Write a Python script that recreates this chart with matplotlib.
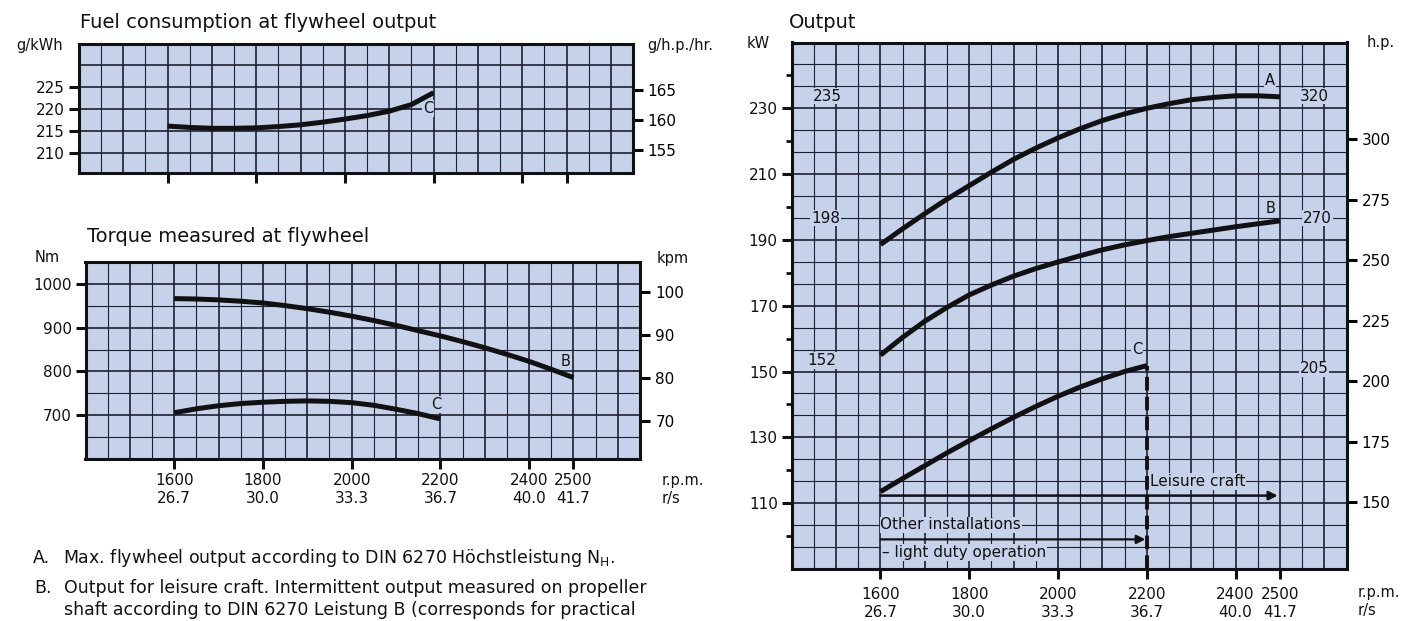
import numpy as np
import matplotlib
matplotlib.use("Agg")
import matplotlib.pyplot as plt

plt.rcParams['font.family'] = ['DejaVu Sans']

W, H = 1410, 621

# x axis (engine speed)
rpm_ticks = [1600, 1800, 2000, 2200, 2400, 2500]
rps_labels = ["26.7", "30.0", "33.3", "36.7", "40.0", "41.7"]

# fuel consumption, curve C (g/kWh)
fuel_rpm = [1600, 1650, 1700, 1750, 1800, 1850, 1900, 1950, 2000, 2050, 2100, 2150, 2200]
fuel_c = [216.2, 215.9, 215.7, 215.7, 215.8, 216.1, 216.5, 217.1, 217.8, 218.6, 219.6, 221.1, 223.8]

# torque (Nm)
torque_rpm_b = [1600, 1650, 1700, 1750, 1800, 1850, 1900, 1950, 2000, 2050,
                2100, 2150, 2200, 2250, 2300, 2350, 2400, 2450, 2500]
torque_b = [966, 965, 963, 960, 956, 950, 943, 935, 926, 916,
            905, 893, 881, 868, 854, 839, 823, 805, 786]
torque_rpm_c = [1600, 1650, 1700, 1750, 1800, 1850, 1900, 1950, 2000, 2050, 2100, 2150, 2200]
torque_c = [706, 715, 722, 727, 730, 732, 733, 732, 729, 723, 714, 704, 692]

# output (kW)
out_rpm_ab = [1600, 1650, 1700, 1750, 1800, 1850, 1900, 1950, 2000, 2050,
              2100, 2150, 2200, 2250, 2300, 2350, 2400, 2450, 2500]
out_a = [188.6, 193.4, 198.0, 202.4, 206.5, 210.6, 214.5, 217.9, 221.0, 223.8,
         226.3, 228.3, 230.0, 231.4, 232.6, 233.3, 233.8, 233.8, 233.5]
out_b = [155.0, 160.4, 165.3, 169.5, 173.3, 176.3, 179.0, 181.3, 183.3, 185.2,
         187.0, 188.5, 189.8, 191.0, 192.0, 193.0, 194.0, 194.9, 195.8]
out_rpm_c = [1600, 1650, 1700, 1750, 1800, 1850, 1900, 1950, 2000, 2050, 2100, 2150, 2200]
out_c = [113.5, 117.5, 121.4, 125.3, 129.0, 132.6, 136.1, 139.4, 142.5, 145.3, 147.8, 150.0, 151.8]

BG = '#c5d2ea'
GRID = '#1c2030'
INK = '#111111'

fig = plt.figure(figsize=(W / 100, H / 100), dpi=100)


def box(left, top, right, bottom):
    return [left / W, 1 - bottom / H, (right - left) / W, (bottom - top) / H]


def ftext(x, y, s, **kw):
    kw.setdefault('fontsize', 11)
    kw.setdefault('va', 'center')
    fig.text(x / W, 1 - y / H, s, color=INK, **kw)


def graph_paper(ax, ylo, yhi, hlines, hmajor):
    ax.set_facecolor(BG)
    ax.set_xlim(1400, 2650)
    ax.set_ylim(ylo, yhi)
    for x in np.arange(1450, 2650, 50):
        ax.axvline(x, color=GRID, lw=1.2 if x % 100 == 0 else 0.8, zorder=1)
    for i, y in enumerate(hlines):
        ax.axhline(y, color=GRID, lw=1.2 if i in hmajor else 0.8, zorder=1)
    for s in ax.spines.values():
        s.set_linewidth(2.2)
        s.set_color(INK)
    ax.tick_params(axis='both', direction='out', length=7, width=2.2,
                   labelsize=11, color=INK, labelcolor=INK, pad=3)


def curve(ax, x, y):
    ax.plot(x, y, color=INK, lw=3.6, solid_capstyle='butt', zorder=3)


def label(ax, x, y, s, size=11, ha='center'):
    ax.text(x, y, s, ha=ha, va='center', fontsize=size, color=INK, zorder=2,
            bbox=dict(facecolor=BG, edgecolor='none', pad=0.6))


xlabels = [f"{r}\n{s}" for r, s in zip(rpm_ticks, rps_labels)]

# ---------------- fuel consumption ----------------
ax1 = fig.add_axes(box(79, 43.5, 633, 172.7))
graph_paper(ax1, 205.6, 235, [210, 215, 220, 225, 230], [0, 1, 2, 3, 4])
ax1.set_yticks([210, 215, 220, 225])
ax1.set_xticks(rpm_ticks)
ax1.set_xticklabels([])
curve(ax1, fuel_rpm, fuel_c)
label(ax1, 2187, 220.2, "C", size=10.5)
sec1 = ax1.secondary_yaxis('right', functions=(lambda v: v * 0.7355, lambda v: v / 0.7355))
sec1.set_yticks([155, 160, 165])
sec1.tick_params(direction='out', length=7, width=2.2, labelsize=11, pad=3)
sec1.spines['right'].set_visible(False)

# ---------------- torque ----------------
ax2 = fig.add_axes(box(85.5, 261.7, 640, 459.3))
graph_paper(ax2, 600, 1050, np.arange(650, 1050, 50), [1, 3, 5, 7])
ax2.set_yticks([700, 800, 900, 1000])
ax2.set_xticks(rpm_ticks)
ax2.set_xticklabels(xlabels, linespacing=1.25)
curve(ax2, torque_rpm_b, torque_b)
curve(ax2, torque_rpm_c, torque_c)
label(ax2, 2483, 823, "B", size=10.5)
label(ax2, 2190, 724, "C", size=10.5)
sec2 = ax2.secondary_yaxis('right', functions=(lambda v: v / 9.80665, lambda v: v * 9.80665))
sec2.set_yticks([70, 80, 90, 100])
sec2.tick_params(direction='out', length=7, width=2.2, labelsize=11, pad=4)
sec2.spines['right'].set_visible(False)

# ---------------- output ----------------
ax3 = fig.add_axes(box(791.7, 42.5, 1346.5, 569))
hl = np.linspace(90, 250, 25)[1:-1]
graph_paper(ax3, 90, 250, hl, [2, 5, 8, 11, 14, 17, 20])
ax3.set_yticks([110, 130, 150, 170, 190, 210, 230])
ax3.set_yticks(np.arange(100, 250, 20), minor=True)
ax3.tick_params(axis='y', which='minor', direction='out', length=4, width=2, color=INK)
ax3.set_xticks(rpm_ticks)
ax3.set_xticklabels(xlabels, linespacing=1.25)
ax3.tick_params(axis='x', pad=6)
curve(ax3, out_rpm_ab, out_a)
curve(ax3, out_rpm_ab, out_b)
curve(ax3, out_rpm_c, out_c)
ax3.vlines(out_rpm_c[-1], 90, out_c[-1], colors=INK, lw=2.8,
           linestyles=(0, (3.5, 1.6)), zorder=3)
label(ax3, 2478, 238.6, "A", size=10.5)
label(ax3, 2480, 199.6, "B", size=10.5)
label(ax3, 2178, 156.6, "C", size=10.5)
label(ax3, 1480, 233.7, "235")
label(ax3, 2577, 233.7, "320")
label(ax3, 1476, 196.6, "198")
label(ax3, 2585, 196.6, "270")
label(ax3, 1467, 153.4, "152")
label(ax3, 2577, 150.8, "205")
label(ax3, 2207, 116.6, "Leisure craft", ha='left')
label(ax3, 1600, 103.4, "Other installations", ha='left')
label(ax3, 1604, 95.0, "– light duty operation", ha='left')
ax3.annotate('', xy=(2495, 112.3), xytext=(1600, 112.3), zorder=3,
             arrowprops=dict(arrowstyle='-|>', lw=1.8, color=INK, mutation_scale=13,
                             shrinkA=0, shrinkB=0))
ax3.annotate('', xy=(2197, 99.0), xytext=(1600, 99.0), zorder=3,
             arrowprops=dict(arrowstyle='-|>', lw=1.6, color=INK, mutation_scale=13,
                             shrinkA=0, shrinkB=0))
sec3 = ax3.secondary_yaxis('right', functions=(lambda v: v / 0.7355, lambda v: v * 0.7355))
sec3.set_yticks([150, 175, 200, 225, 250, 275, 300])
sec3.tick_params(direction='out', length=7, width=2.2, labelsize=11, pad=4)
sec3.spines['right'].set_visible(False)

# ---------------- titles, units, notes ----------------
ftext(80, 22, "Fuel consumption at flywheel output", fontsize=14)
ftext(87, 237, "Torque measured at flywheel", fontsize=14)
ftext(789, 22, "Output", fontsize=14)

ftext(63, 45.5, "g/kWh", ha='right', fontsize=10.5)
ftext(647, 45.5, "g/h.p./hr.", fontsize=10.5)
ftext(35, 257, "Nm", fontsize=10.5)
ftext(657, 258, "kpm", fontsize=10.5)
ftext(747, 43, "kW", fontsize=10.5)
ftext(1367, 43, "h.p.", fontsize=10.5)

ftext(662, 480, "r.p.m.", fontsize=10.5)
ftext(662, 498, "r/s", fontsize=10.5)
ftext(1358, 592, "r.p.m.", fontsize=10.5)
ftext(1358, 611, "r/s", fontsize=10.5)

ftext(33, 558, "A.", fontsize=12.5)
ftext(63, 558, r"Max. flywheel output according to DIN 6270 Höchstleistung N$_{\mathregular{H}}$.", fontsize=12.5)
ftext(34, 588, "B.", fontsize=12.5)
ftext(64, 588, "Output for leisure craft. Intermittent output measured on propeller", fontsize=12.5)
ftext(64, 610, "shaft according to DIN 6270 Leistung B (corresponds for practical", fontsize=12.5)

fig.savefig("out.png", dpi=100, facecolor='white')
